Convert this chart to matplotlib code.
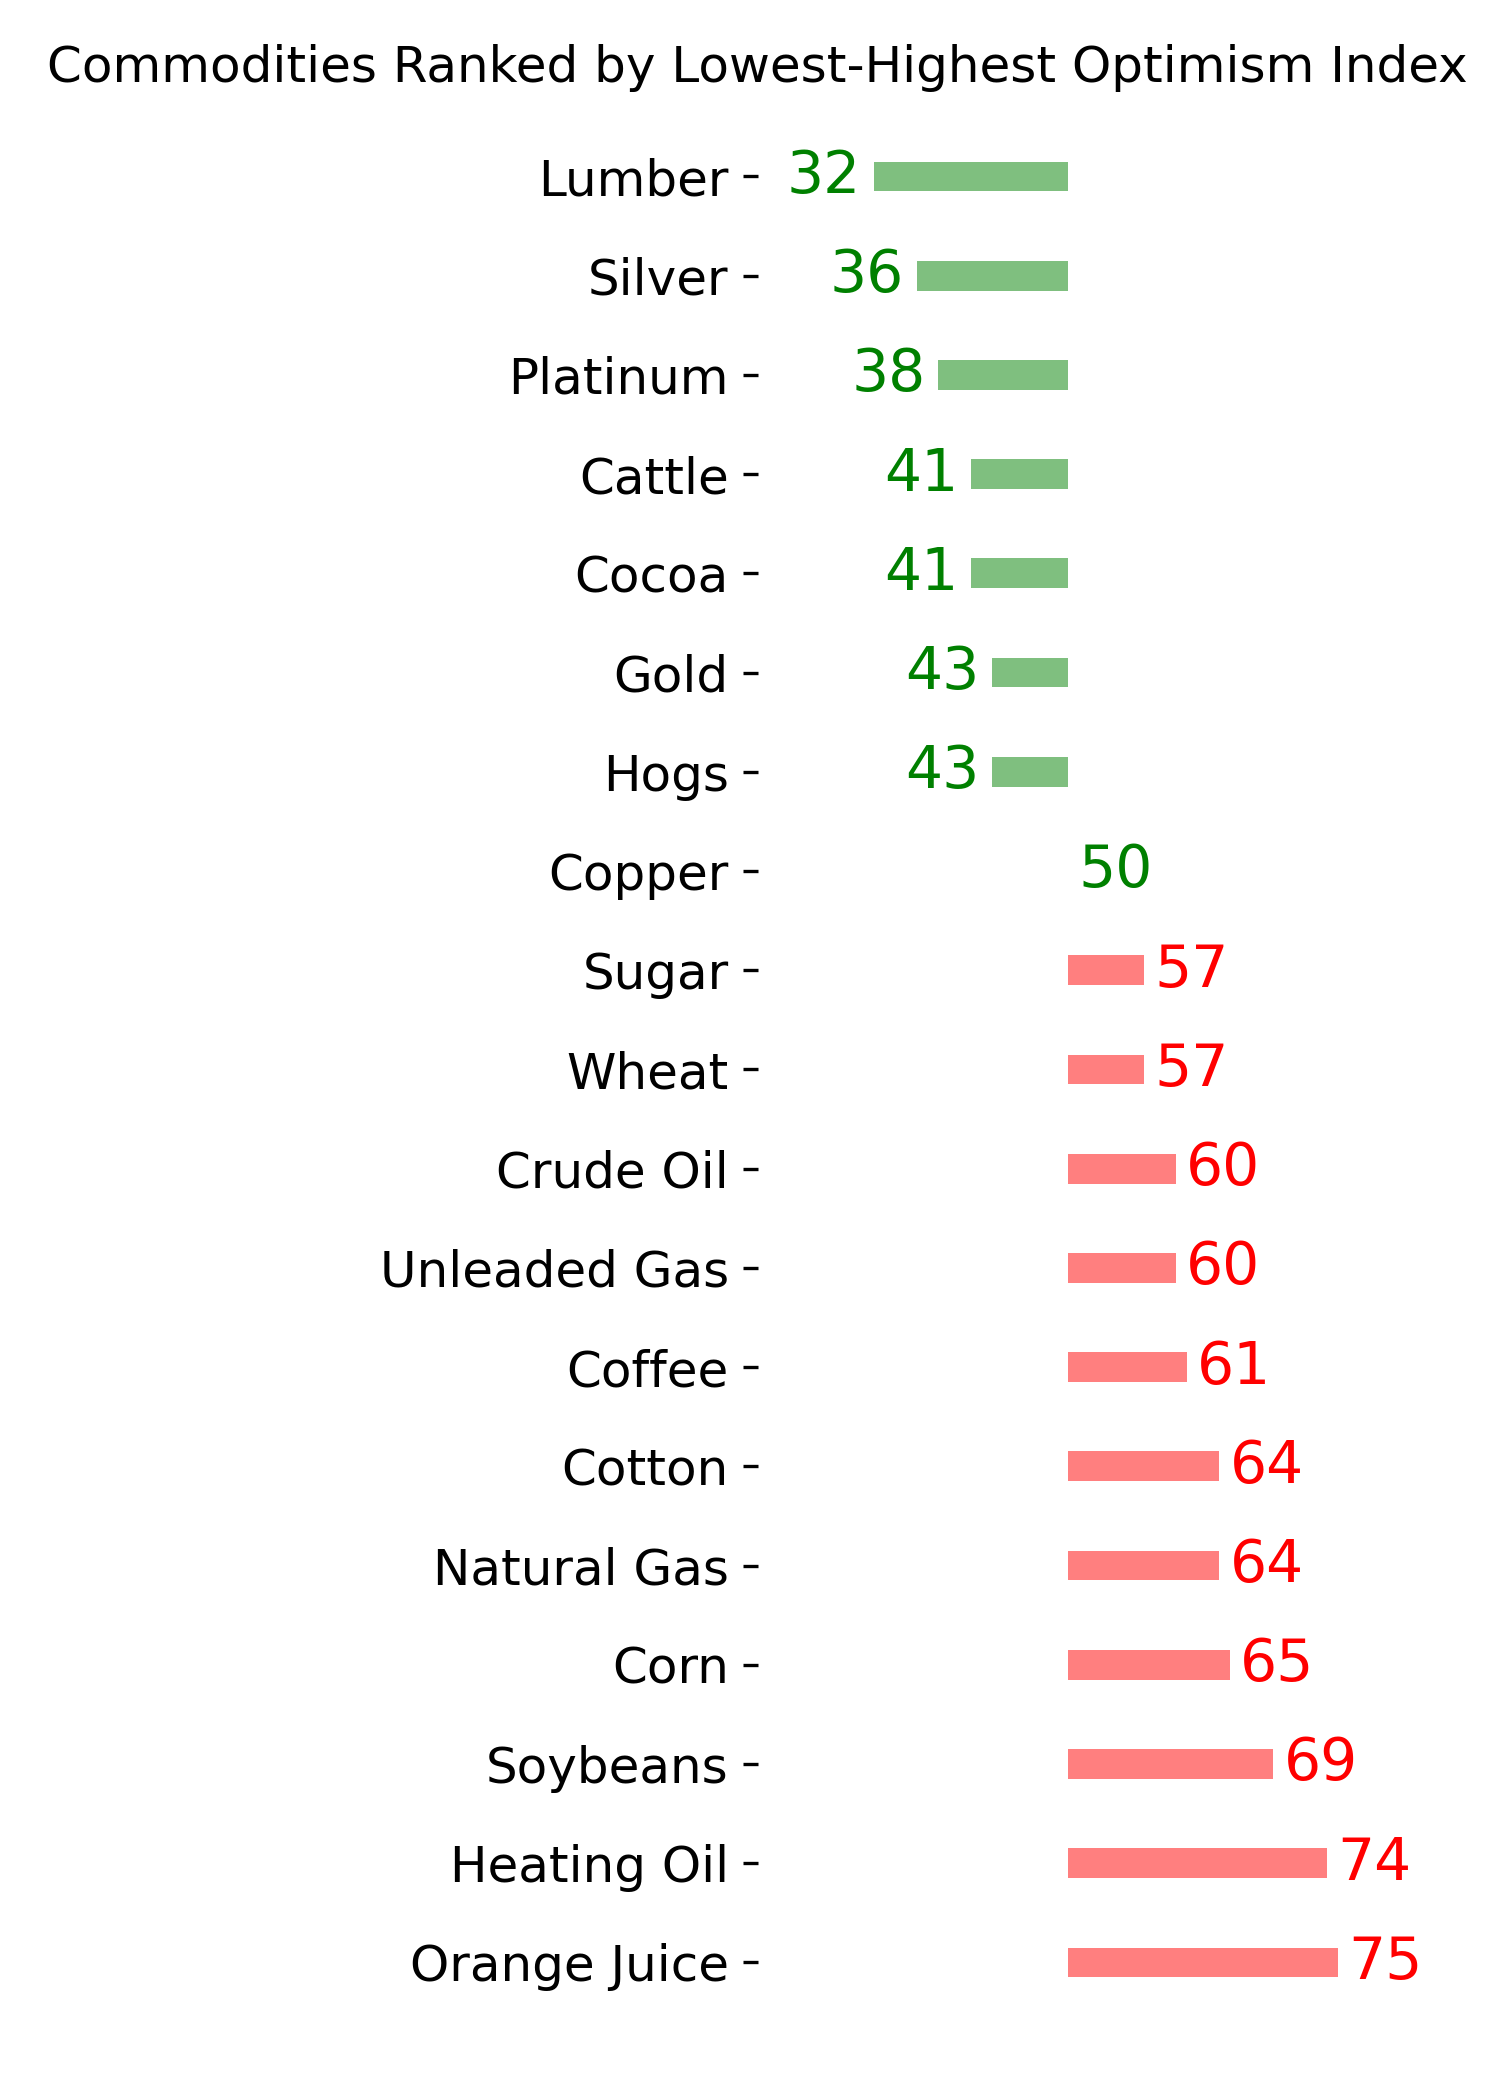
import matplotlib.pyplot as plt

commodities = ['Lumber', 'Silver', 'Platinum', 'Cattle', 'Cocoa', 'Gold', 'Hogs',
               'Copper', 'Sugar', 'Wheat', 'Crude Oil', 'Unleaded Gas', 'Coffee',
               'Cotton', 'Natural Gas', 'Corn', 'Soybeans', 'Heating Oil', 'Orange Juice']
optimism = [32, 36, 38, 41, 41, 43, 43, 50, 57, 57, 60, 60, 61, 64, 64, 65, 69, 74, 75]
neutral = 50

fig = plt.figure(figsize=(5, 7), dpi=300)
ax = fig.add_axes([0.5053, 0.023, 0.445, 0.9355])

ypos = list(range(len(commodities)))
colors = ['green' if v <= neutral else 'red' for v in optimism]
widths = [v - neutral for v in optimism]
ax.barh(ypos, widths, left=neutral, height=0.3, color=colors, alpha=0.5)

# value labels beside each bar
for y, v, c in zip(ypos, optimism, colors):
    if v < neutral:
        ax.annotate(str(v), xy=(v, y), xytext=(-3.0, 0), textcoords='offset points',
                    ha='right', va='center', color=c, fontsize=14)
    else:
        ax.annotate(str(v), xy=(v, y), xytext=(2.5, 0), textcoords='offset points',
                    ha='left', va='center', color=c, fontsize=14)

ax.set_yticks(ypos)
ax.set_yticklabels(commodities, fontsize=12)
ax.set_ylim(len(commodities) - 1 + 0.9, -0.9)
ax.set_xlim(21.3, 83.1)
ax.set_xticks([])
for s in ax.spines.values():
    s.set_visible(False)

fig.text(0.505, 1 - 68 / 2100, 'Commodities Ranked by Lowest-Highest Optimism Index',
         ha='center', va='center', fontsize=12)

fig.savefig('out.png', dpi=300)
